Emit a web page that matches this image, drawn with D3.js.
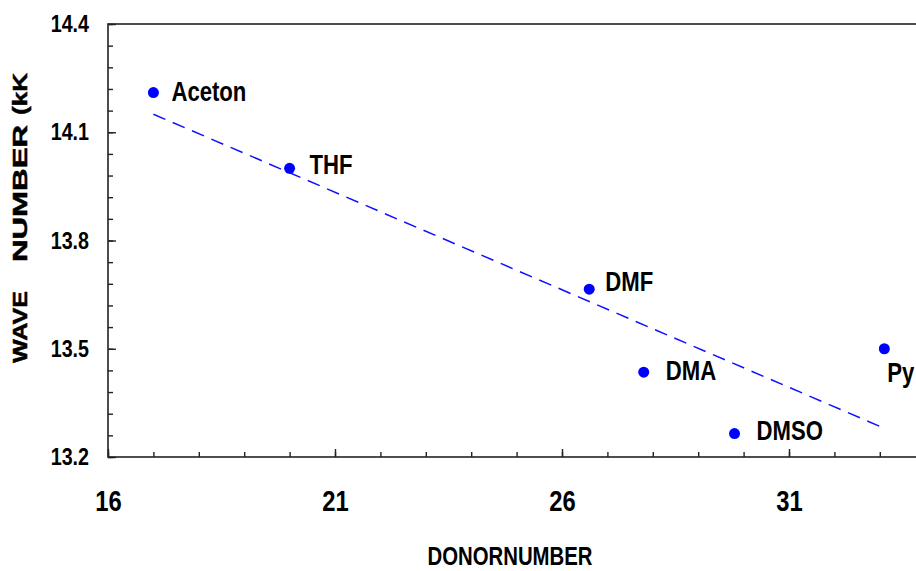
<!DOCTYPE html>
<html>
<head>
<meta charset="utf-8">
<script src="https://cdn.jsdelivr.net/npm/d3@7"></script>
<style>
  body { margin: 0; background: #fff; }
  svg { display: block; }
  text { font-family: "Liberation Sans", Arial, sans-serif; }
</style>
</head>
<body>
<div id="chart"></div>
<script>
// solvent data
const solvents = ["Aceton", "THF", "DMF", "DMA", "DMSO", "Py"];
const donorNumber = [17.0, 20.0, 26.6, 27.8, 29.8, 33.1];
const waveNumber = [14.21, 14.0, 13.665, 13.435, 13.265, 13.5];

// fitted line, endpoints
const fitX = [17.0, 33.0];
const fitY = [14.15, 13.285];

const xMajor = [16, 21, 26, 31];
const yMajor = [13.2, 13.5, 13.8, 14.1, 14.4];

(function scatter() {
  let width = 916,
    height = 571,
    margin = ({ top: 24, left: 108, bottom: 114 });

  const svg = d3.select("#chart")
    .append("svg")
    .attr("width", width)
    .attr("height", height);

  // squeeze text horizontally, the original uses a narrow face
  function narrow(sel, k) {
    sel.each(function () {
      const w = this.getComputedTextLength();
      d3.select(this).attr("textLength", w * k).attr("lengthAdjust", "spacingAndGlyphs");
    });
  }

  // one x unit is ~45.4px; the frame runs past the right edge of the picture
  let x = d3.scaleLinear([16, 36], [margin.left, margin.left + 20 * 45.4]);
  let y = d3.scaleLinear([13.2, 14.4], [height - margin.bottom, margin.top]);

  // minor ticks
  svg.append("g")
    .attr("transform", `translate(0,${y(13.2)})`)
    .call(d3.axisBottom(x).tickValues(d3.range(16, 37, 1)).tickSize(-5).tickFormat(""))
    .call(g => g.select(".domain").remove());

  svg.append("g")
    .attr("transform", `translate(${x(16)},0)`)
    .call(d3.axisLeft(y).tickValues(d3.range(0, 21).map(i => 13.2 + i * 0.06)).tickSize(-5).tickFormat(""))
    .call(g => g.select(".domain").remove());

  // major ticks + labels
  svg.append("g")
    .attr("transform", `translate(0,${y(13.2)})`)
    .call(d3.axisBottom(x).tickValues(xMajor).tickSize(-8).tickPadding(33).tickFormat(d3.format("d")))
    .call(g => g.select(".domain").remove())
    .call(g => g.selectAll("text")
      .attr("font-size", 29)
      .attr("font-weight", "bold")
      .attr("fill", "#000")
      .call(narrow, 0.82));

  svg.append("g")
    .attr("transform", `translate(${x(16)},0)`)
    .call(d3.axisLeft(y).tickValues(yMajor).tickSize(-8).tickPadding(19).tickFormat(d3.format(".1f")))
    .call(g => g.select(".domain").remove())
    .call(g => g.selectAll("text")
      .attr("font-size", 24)
      .attr("font-weight", "bold")
      .attr("fill", "#000")
      .call(narrow, 0.82));

  svg.selectAll(".tick line").attr("stroke", "#222").attr("stroke-width", 1.4);

  // frame
  svg.append("rect")
    .attr("x", x(16))
    .attr("y", y(14.4))
    .attr("width", x(36) - x(16))
    .attr("height", y(13.2) - y(14.4))
    .attr("fill", "none")
    .attr("stroke", "#222")
    .attr("stroke-width", 1.6);

  // dashed fit
  svg.append("path")
    .datum(fitX.map((d, i) => [d, fitY[i]]))
    .attr("d", d3.line().x(d => x(d[0])).y(d => y(d[1])))
    .attr("fill", "none")
    .attr("stroke", "#1010ff")
    .attr("stroke-width", 1.5)
    .attr("stroke-dasharray", "13,8");

  const points = solvents.map((s, i) => ({ name: s, x: donorNumber[i], y: waveNumber[i] }));

  svg.append("g")
    .selectAll("circle")
    .data(points)
    .join("circle")
    .attr("cx", d => x(d.x))
    .attr("cy", d => y(d.y))
    .attr("r", 5.5)
    .attr("fill", "#0000ff");

  // label offsets relative to each dot
  const offsets = { Aceton: [18, 8], THF: [20, 6], DMF: [16, 2], DMA: [22, 8], DMSO: [22, 6], Py: [3, 33] };

  svg.append("g")
    .selectAll("text")
    .data(points)
    .join("text")
    .attr("transform", d => `translate(${x(d.x) + offsets[d.name][0]},${y(d.y) + offsets[d.name][1]}) scale(0.82,1)`)
    .attr("font-size", 27)
    .attr("font-weight", "bold")
    .text(d => d.name);

  // axis titles
  svg.append("text")
    .attr("x", 510)
    .attr("y", 565)
    .attr("text-anchor", "middle")
    .attr("font-size", 25)
    .attr("font-weight", "bold")
    .attr("textLength", 165)
    .attr("lengthAdjust", "spacingAndGlyphs")
    .text("DONORNUMBER");

  // rotated title, wide letters spread out as in the original
  const ytitle = svg.append("text")
    .attr("transform", "translate(27,0) rotate(-90)")
    .attr("font-size", 21)
    .attr("font-weight", "bold")
    .attr("stroke", "#000")
    .attr("stroke-width", 0.5);
  [["WAVE", 363, 72], ["NUMBER", 262, 137], ["(kK", 115, 42]].forEach(([t, start, len]) => {
    ytitle.append("tspan")
      .attr("x", -start)
      .attr("textLength", len)
      .attr("lengthAdjust", "spacingAndGlyphs")
      .text(t);
  });
})();
</script>
</body>
</html>
